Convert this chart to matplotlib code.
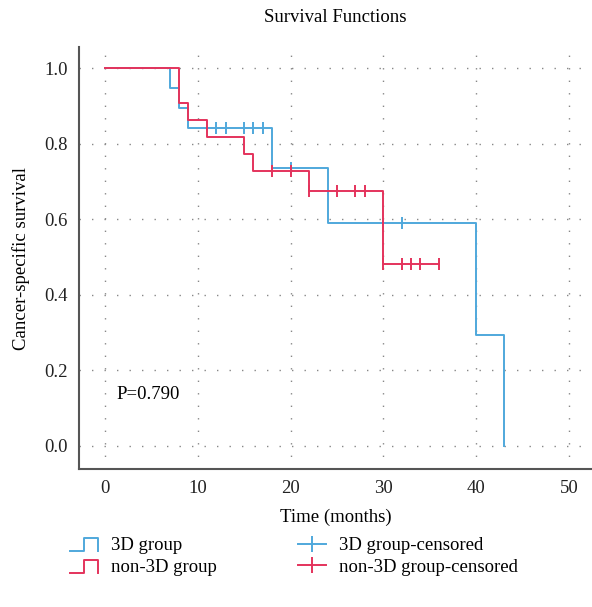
import matplotlib
matplotlib.use("Agg")
import matplotlib.pyplot as plt
from matplotlib.lines import Line2D
from matplotlib.legend_handler import HandlerBase

plt.rcParams['font.family'] = ['Liberation Serif', 'DejaVu Serif']

# Kaplan-Meier steps
t_3d = [0, 7, 8, 9, 18, 24, 40, 43]
s_3d = [1.0, 0.947, 0.895, 0.842, 0.737, 0.589, 0.295, 0.0]
cens_t_3d = [12, 13, 15, 16, 17, 20, 32]
cens_s_3d = [0.842, 0.842, 0.842, 0.842, 0.842, 0.737, 0.589]

t_non = [0, 8, 9, 11, 15, 16, 22, 30, 36]
s_non = [1.0, 0.909, 0.864, 0.818, 0.773, 0.727, 0.675, 0.481, 0.481]
cens_t_non = [18, 20, 22, 25, 27, 28, 30, 32, 33, 34, 36]
cens_s_non = [0.727, 0.727, 0.675, 0.675, 0.675, 0.675, 0.481, 0.481, 0.481, 0.481, 0.481]

BLUE = '#4fa8dc'
RED = '#e4335c'
FS = 13.5


class StepHandler(HandlerBase):
    def create_artists(self, legend, orig_handle, xdescent, ydescent,
                       width, height, fontsize, trans):
        w, h = width, height
        xs = [-xdescent, -xdescent + w * 0.5, -xdescent + w * 0.5, -xdescent + w, -xdescent + w]
        ys = [-ydescent - h * 0.1, -ydescent - h * 0.1, -ydescent + h * 0.9,
              -ydescent + h * 0.9, -ydescent - h * 0.1]
        ln = Line2D(xs, ys, color=orig_handle.get_color(), lw=1.4, transform=trans)
        return [ln]


fig = plt.figure(figsize=(5.92, 6.07), dpi=100)
ax = fig.add_axes([79 / 592, 1 - 469 / 607, 1 - 79 / 592, (469 - 47) / 607])

ax.step(t_3d, s_3d, where='post', color=BLUE, lw=1.4)
ax.step(t_non, s_non, where='post', color=RED, lw=1.4)
ax.plot(cens_t_3d, cens_s_3d, ls='none', marker='|', ms=9, mew=1.4, color=BLUE)
ax.plot(cens_t_non, cens_s_non, ls='none', marker='|', ms=9, mew=1.4, color=RED)

ax.set_xlim(-2.8, 52.5)
ax.set_ylim(-0.061, 1.056)
ax.set_xticks([0, 10, 20, 30, 40, 50])
ax.set_yticks([0.0, 0.2, 0.4, 0.6, 0.8, 1.0])
ax.set_yticklabels(['0.0', '0.2', '0.4', '0.6', '0.8', '1.0'])
ax.tick_params(length=0, labelsize=FS, colors='#222222')
ax.tick_params(axis='y', pad=8)
ax.tick_params(axis='x', pad=8)
ax.grid(True, color='#888888', lw=1.0, ls=(0, (1, 8)))
for side in ['top', 'right']:
    ax.spines[side].set_visible(False)
for side in ['left', 'bottom']:
    ax.spines[side].set_color('#555555')
    ax.spines[side].set_linewidth(1.5)

ax.set_title('Survival Functions', fontsize=FS, pad=18)
ax.set_xlabel('Time (months)', fontsize=FS, labelpad=8)
ax.set_ylabel('Cancer-specific survival', fontsize=FS, labelpad=10)
ax.text(1.2, 0.135, 'P=0.790', fontsize=FS, va='center', ha='left')

h1 = Line2D([], [], color=BLUE)
h2 = Line2D([], [], color=RED)
h3 = Line2D([], [], color=BLUE, marker='|', ms=12, mew=1.4, lw=1.4)
h4 = Line2D([], [], color=RED, marker='|', ms=12, mew=1.4, lw=1.4)

kw = dict(frameon=False, fontsize=FS, handlelength=1.5, handletextpad=0.7,
          labelspacing=0.25, borderpad=0, borderaxespad=0, loc='upper left')
leg1 = fig.legend([h1, h2], ['3D group', 'non-3D group'],
                  handler_map={h1: StepHandler(), h2: StepHandler()},
                  bbox_to_anchor=(70 / 592, 1 - 537 / 607), **kw)
leg2 = fig.legend([h3, h4], ['3D group-censored', 'non-3D group-censored'],
                  bbox_to_anchor=(298 / 592, 1 - 537 / 607), **kw)

fig.savefig('out.png', dpi=100)
